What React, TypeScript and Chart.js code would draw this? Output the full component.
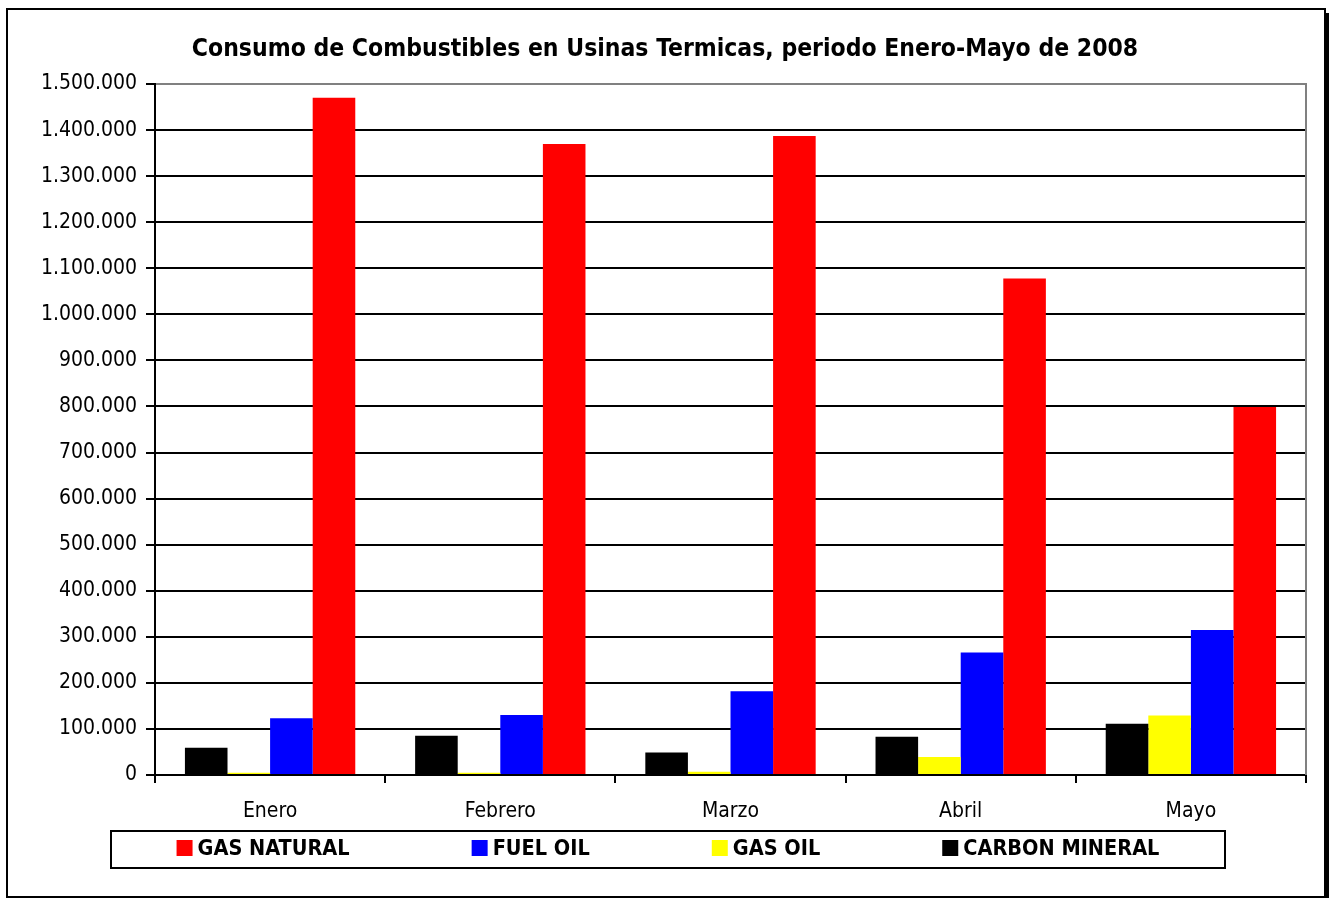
import React, { useEffect, useRef } from "react";
import { Chart, registerables } from "chart.js";

Chart.register(...registerables);

const categories = ["Enero", "Febrero", "Marzo", "Abril", "Mayo"];
const carbonMineral = [59000, 85000, 49000, 83000, 111000];
const gasOil = [5000, 5000, 7000, 39000, 129000];
const fuelOil = [123000, 130000, 182000, 266000, 315000];
const gasNatural = [1470000, 1370000, 1387000, 1078000, 799000];
const yTicks = [0, 100000, 200000, 300000, 400000, 500000, 600000, 700000, 800000, 900000, 1000000, 1100000, 1200000, 1300000, 1400000, 1500000];

const TITLE = "Consumo de Combustibles en Usinas Termicas, periodo Enero-Mayo de 2008";
const FONT = "'DejaVu Sans Condensed', 'DejaVu Sans', sans-serif";

const fmt = (n: number) => String(n).replace(/\B(?=(\d{3})+(?!\d))/g, ".");

const decorPlugin = {
  id: "decor",
  afterDraw(chart: any) {
    const { ctx, chartArea } = chart;
    ctx.save();
    // right plot border (gray)
    ctx.strokeStyle = "#808080";
    ctx.lineWidth = 2;
    ctx.beginPath();
    ctx.moveTo(chartArea.right, chartArea.top - 1);
    ctx.lineTo(chartArea.right, chartArea.bottom);
    ctx.stroke();

    // outer border
    ctx.strokeStyle = "#000";
    ctx.lineWidth = 2;
    ctx.strokeRect(7, 9, 1318, 888);
    ctx.fillStyle = "#000";
    ctx.fillRect(1326, 13, 3, 885);

    // legend box
    ctx.lineWidth = 2;
    ctx.strokeRect(111, 831, 1114, 37);
    const items = chart.data.datasets.slice().reverse();
    ctx.font = "bold 21.5px " + FONT;
    ctx.textBaseline = "middle";
    ctx.textAlign = "left";
    const box = 16;
    const gapBoxText = 5;
    const gapItems = 122;
    const widths = items.map((d: any) => box + gapBoxText + ctx.measureText(d.label).width);
    const total = widths.reduce((a: number, b: number) => a + b, 0) + gapItems * (items.length - 1);
    let x = 668 - total / 2;
    const cy = 848;
    items.forEach((d: any, i: number) => {
      ctx.fillStyle = d.backgroundColor;
      ctx.fillRect(x, cy - box / 2, box, box);
      ctx.fillStyle = "#000";
      ctx.fillText(d.label, x + box + gapBoxText, cy + 1);
      x += widths[i] + gapItems;
    });
    ctx.restore();
  },
};

export default function App() {
  const ref = useRef<HTMLCanvasElement | null>(null);
  useEffect(() => {
    if (!ref.current) return;
    const chart = new Chart(ref.current, {
      type: "bar",
      data: {
        labels: categories,
        datasets: [
          { label: "CARBON MINERAL", data: carbonMineral, backgroundColor: "#000000" },
          { label: "GAS OIL", data: gasOil, backgroundColor: "#FFFF00" },
          { label: "FUEL OIL", data: fuelOil, backgroundColor: "#0000FF" },
          { label: "GAS NATURAL", data: gasNatural, backgroundColor: "#FF0000" },
        ],
      },
      options: {
        responsive: false,
        animation: false,
        layout: { padding: { left: 24, right: 24, top: 0, bottom: 73 } },
        datasets: { bar: { categoryPercentage: 0.74, barPercentage: 1.0 } },
        plugins: {
          legend: { display: false },
          tooltip: { enabled: false },
          title: {
            display: true,
            text: TITLE,
            color: "#000",
            font: { family: FONT, size: 24.5, weight: "bold" },
            padding: { top: 35, bottom: 19.6 },
          },
        },
        scales: {
          x: {
            grid: {
              display: true,
              drawOnChartArea: false,
              drawTicks: true,
              tickLength: 8,
              color: "#000",
              lineWidth: 2,
              offset: true,
            },
            border: { display: true, color: "#000", width: 2 },
            ticks: { color: "#000", font: { family: FONT, size: 21 }, padding: 16 },
            afterFit: (s: any) => {
              s.height = 50;
            },
          },
          y: {
            min: 0,
            max: 1500000,
            afterBuildTicks: (s: any) => {
              s.ticks = yTicks.map((v) => ({ value: v }));
            },
            grid: {
              color: (c: any) => (c.tick && c.tick.value === 1500000 ? "#808080" : "#000"),
              tickColor: "#000",
              lineWidth: 2,
              tickLength: 9,
              drawTicks: true,
            },
            border: { display: true, color: "#000", width: 2 },
            ticks: {
              color: "#000",
              font: { family: FONT, size: 21 },
              padding: 9,
              callback: (v: any) => fmt(Number(v)),
            },
            afterFit: (s: any) => {
              s.width = 131;
            },
          },
        },
      },
      plugins: [decorPlugin],
    });
    return () => chart.destroy();
  }, []);
  return (
    <div style={{ position: "absolute", left: 0, top: 0, width: 1330, height: 898, background: "#fff" }}>
      <canvas ref={ref} width={1330} height={898} />
    </div>
  );
}
